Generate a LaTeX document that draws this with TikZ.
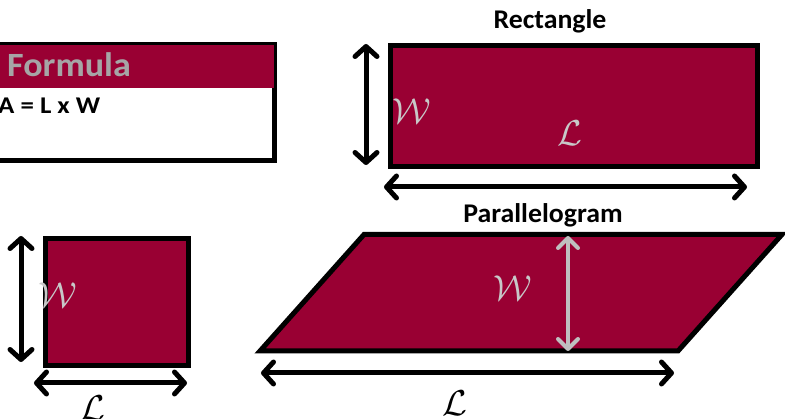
\documentclass[tikz,border=0pt]{standalone}
\usepackage{fix-cm}
\usepackage{fontspec}
\setmainfont{Carlito}
\usetikzlibrary{arrows.meta}
\definecolor{crimson}{HTML}{990033}
\definecolor{lblgrey}{HTML}{C8C8C8}
\definecolor{hdrgrey}{HTML}{A6A6A6}
\definecolor{arrgrey}{HTML}{BFBFBF}
\tikzset{
  shapebox/.style={draw=black, line width=5pt, fill=crimson, line join=miter},
  dimarrow/.style={line width=5pt, {Straight Barb[length=10pt,width=22pt,round]}-{Straight Barb[length=10pt,width=22pt,round]}},
  greyarrow/.style={draw=arrgrey, line width=4pt, {Straight Barb[length=10pt,width=20pt,round]}-{Straight Barb[length=10pt,width=20pt,round]}},
  title/.style={font=\fontsize{27}{30}\selectfont\bfseries, inner sep=0pt, xscale=1.03},
  mlabel/.style={font=\fontsize{36}{40}\selectfont, inner sep=0pt},
}
\begin{document}
\begin{tikzpicture}[x=1pt, y=-1pt]
\clip (0,0) rectangle (785,419);
% Formula box
\node[draw=black, line width=5pt, fill=white, minimum width=300pt, minimum height=116pt, inner sep=0pt, anchor=north east] (fbox) at (276.5,42.5) {};
\fill[crimson] (-30,45) rectangle (274,88.5);
\node[font=\fontsize{34}{38}\selectfont\bfseries, text=hdrgrey, inner sep=0pt, anchor=base west, xscale=1.06] (ftitle) at (7,77) {Formula};
\node[font=\fontsize{24}{28}\selectfont\bfseries, inner sep=0pt, anchor=base east, xscale=1.12] (formula) at (100.5,114) {A = L x W};

% Rectangle
\node[title] (rtitle) at (550,21) {Rectangle};
\node[shapebox, minimum width=367pt, minimum height=121pt, inner sep=0pt, anchor=north west] (rect) at (387.5,43.5) {};
\coordinate (rwt) at (366,44);
\coordinate (rwb) at (366,165);
\draw[dimarrow] (rwt) -- (rwb);
\coordinate (rll) at (384,187);
\coordinate (rlr) at (747,187);
\draw[dimarrow] (rll) -- (rlr);
\node[mlabel, text=lblgrey] (rW) at (412,111) {$\mathcal{W}$};
\node[mlabel, text=lblgrey] (rL) at (570,133) {$\mathcal{L}$};

% Square
\node[shapebox, minimum width=143pt, minimum height=127pt, inner sep=0pt, anchor=north west] (sq) at (42.5,236.5) {};
\coordinate (swt) at (21,236);
\coordinate (swb) at (21,362);
\draw[dimarrow] (swt) -- (swb);
\coordinate (sll) at (34,383);
\coordinate (slr) at (187,383);
\draw[dimarrow] (sll) -- (slr);
\node[mlabel, text=lblgrey] (sW) at (58,295) {$\mathcal{W}$};
\node[mlabel] (sL) at (93,408) {$\mathcal{L}$};

% Parallelogram
\node[title] (ptitle) at (543,215) {Parallelogram};
\coordinate (pbl) at (260,351);
\coordinate (ptl) at (364,234.5);
\coordinate (ptr) at (782,234.5);
\coordinate (pbr) at (678,351);
\draw[shapebox] (pbl) -- (ptl) -- (ptr) -- (pbr) -- cycle;
\coordinate (pwt) at (568,236);
\coordinate (pwb) at (568,351);
\draw[greyarrow] (pwt) -- (pwb);
\coordinate (pll) at (261,373);
\coordinate (plr) at (674,373);
\draw[dimarrow] (pll) -- (plr);
\node[mlabel, text=lblgrey] (pW) at (513,288) {$\mathcal{W}$};
\node[mlabel] (pL) at (455,403) {$\mathcal{L}$};
\end{tikzpicture}
\end{document}
